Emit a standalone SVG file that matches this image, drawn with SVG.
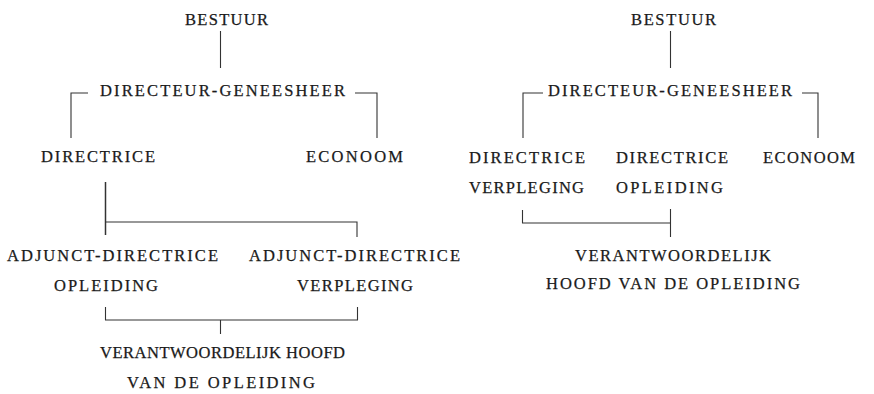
<svg xmlns="http://www.w3.org/2000/svg" width="874" height="394" viewBox="0 0 874 394">
<style>
text{font-family:"Liberation Serif","DejaVu Serif",serif;font-size:16.5px;fill:#1a1a1a;stroke:#1a1a1a;stroke-width:0.25;}
.c path{fill:none;stroke:#333;stroke-width:1.1;}
</style>
<rect width="874" height="394" fill="#fff"/>
<g class="c" id="connectors">
<path d="M220.5,31V68"/>
<path d="M88,93H71V138"/>
<path d="M355,93H377V138"/>
<path d="M105.5,182V235" style="stroke-width:1.5"/>
<path d="M105.5,222H357V237"/>
<path d="M105.5,307V320H357.5V307"/>
<path d="M220.5,320V334"/>
<path d="M670.5,31V68"/>
<path d="M543,93H523V138"/>
<path d="M802,93H818V138"/>
<path d="M522.5,210V223H670.5"/>
<path d="M670.5,209V237"/>
</g>
<g id="l-bestuur"><text x="185" y="25" textLength="83" lengthAdjust="spacing">BESTUUR</text></g>
<g id="l-directeur"><text x="100" y="96" textLength="245" lengthAdjust="spacing">DIRECTEUR-GENEESHEER</text></g>
<g id="l-directrice"><text x="41" y="162" textLength="114" lengthAdjust="spacing">DIRECTRICE</text></g>
<g id="l-econoom"><text x="306" y="162" textLength="97" lengthAdjust="spacing">ECONOOM</text></g>
<g id="l-adj-opl"><text x="7" y="261" textLength="211" lengthAdjust="spacing">ADJUNCT-DIRECTRICE</text><text x="54" y="291" textLength="104" lengthAdjust="spacing">OPLEIDING</text></g>
<g id="l-adj-verpl"><text x="249" y="261" textLength="211" lengthAdjust="spacing">ADJUNCT-DIRECTRICE</text><text x="297" y="291" textLength="116" lengthAdjust="spacing">VERPLEGING</text></g>
<g id="l-hoofd"><text x="100" y="358" textLength="245" lengthAdjust="spacing">VERANTWOORDELIJK HOOFD</text><text x="127" y="388" textLength="188" lengthAdjust="spacing">VAN DE OPLEIDING</text></g>
<g id="r-bestuur"><text x="631" y="25" textLength="85" lengthAdjust="spacing">BESTUUR</text></g>
<g id="r-directeur"><text x="548" y="96" textLength="244" lengthAdjust="spacing">DIRECTEUR-GENEESHEER</text></g>
<g id="r-dir-verpl"><text x="469" y="163" textLength="116" lengthAdjust="spacing">DIRECTRICE</text><text x="469" y="193" textLength="115" lengthAdjust="spacing">VERPLEGING</text></g>
<g id="r-dir-opl"><text x="616" y="163" textLength="112" lengthAdjust="spacing">DIRECTRICE</text><text x="616" y="193" textLength="107" lengthAdjust="spacing">OPLEIDING</text></g>
<g id="r-econoom"><text x="763" y="163" textLength="92" lengthAdjust="spacing">ECONOOM</text></g>
<g id="r-hoofd"><text x="575" y="261" textLength="196" lengthAdjust="spacing">VERANTWOORDELIJK</text><text x="546" y="289" textLength="254" lengthAdjust="spacing">HOOFD VAN DE OPLEIDING</text></g>
</svg>
